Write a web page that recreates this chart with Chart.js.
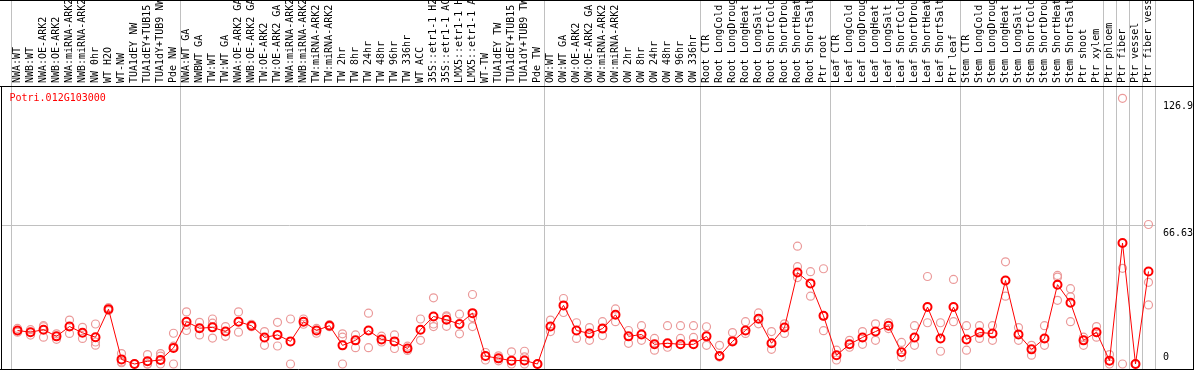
<!DOCTYPE html>
<html>
<head>
<meta charset="utf-8">
<script src="https://cdn.jsdelivr.net/npm/chart.js@4.4.1/dist/chart.umd.min.js"></script>
<style>
  html, body { margin: 0; padding: 0; background: #fff; }
  canvas { display: block; }
</style>
</head>
<body>
<canvas id="chart" width="1194" height="370"></canvas>
<script>
// sample names, as printed (cut to 14 chars)
var sampleLabels = [
  'NWA:WT', 'NWB:WT', 'NWA:OE-ARK2', 'NWB:OE-ARK2', 'NWA:miRNA-ARK2', 'NWB:miRNA-ARK2',
  'NW 0hr', 'WT H2O', 'WT-NW', 'TUA1dEY NW', 'TUA1dEY+TUB15', 'TUA1dY+TUB9 NW', 'Pde NW',
  'NWA:WT GA', 'NWBWT GA', 'TW:WT', 'TW:WT GA', 'NWA:OE-ARK2 GA', 'NWB:OE-ARK2 GA',
  'TW:OE-ARK2', 'TW:OE-ARK2 GA', 'NWA:miRNA-ARK2', 'NWB:miRNA-ARK2', 'TW:miRNA-ARK2',
  'TW:miRNA-ARK2', 'TW 2hr', 'TW 8hr', 'TW 24hr', 'TW 48hr', 'TW 96hr', 'TW 336hr', 'WT ACC',
  '35S::etr1-1 H2', '35S::etr1-1 AC', 'LMX5::etr1-1 H', 'LMX5::etr1-1 A', 'WT-TW', 'TUA1dEY TW',
  'TUA1dEY+TUB15', 'TUA1dY+TUB9 TW', 'Pde TW',
  'OW:WT', 'OW:WT GA', 'OW:OE-ARK2', 'OW:OE-ARK2 GA', 'OW:miRNA-ARK2', 'OW:miRNA-ARK2',
  'OW 2hr', 'OW 8hr', 'OW 24hr', 'OW 48hr', 'OW 96hr', 'OW 336hr',
  'Root CTR', 'Root LongCold', 'Root LongDroug', 'Root LongHeat', 'Root LongSalt',
  'Root ShortCold', 'Root ShortDrou', 'Root ShortHeat', 'Root ShortSalt', 'Ptr root',
  'Leaf CTR', 'Leaf LongCold', 'Leaf LongDroug', 'Leaf LongHeat', 'Leaf LongSalt',
  'Leaf ShortCold', 'Leaf ShortDrou', 'Leaf ShortHeat', 'Leaf ShortSalt', 'Ptr leaf',
  'Stem CTR', 'Stem LongCold', 'Stem LongDroug', 'Stem LongHeat', 'Stem LongSalt',
  'Stem ShortCold', 'Stem ShortDrou', 'Stem ShortHeat', 'Stem ShortSalt', 'Ptr shoot', 'Ptr xylem',
  'Ptr phloem', 'Ptr fiber', 'Ptr vessel', 'Ptr fiber vess'
];

// index of the first sample of each block (last entry = end)
var groupBreaks = [0, 13, 41, 53, 63, 73, 84, 85, 86, 87, 88];

var geneName = 'Potri.012G103000';

// mean expression (red line)
var meanValues = [
  16.0, 15.2, 16.4, 13.2, 17.9, 14.9, 12.8, 26.2, 2.2, 0, 1.3, 1.9, 7.7,
  20.2, 17.1, 17.5, 15.5, 20.2, 18.3, 12.7, 13.9, 10.8, 20.2, 16.0, 18.3, 8.9, 11.3,
  16.0, 11.7, 10.8, 7.4, 16.4, 22.7, 21.1, 19.1, 24.3, 3.8, 2.7, 1.6, 1.7, 0,
  17.9, 28.0, 16.0, 14.6, 16.9, 23.5, 13.2, 14.1, 9.4, 9.9, 9.4, 9.4,
  13.2, 3.8, 10.8, 16.0, 21.6, 9.9, 17.4, 43.7, 38.5, 23.0,
  4.2, 9.4, 12.7, 15.5, 18.3, 5.6, 12.7, 27.2, 12.2, 27.2,
  11.7, 15.0, 14.6, 39.9, 14.1, 7.0, 12.2, 37.9, 29.3, 11.3, 15.2,
  1.6, 57.8, 0, 44.2
];

// single replicates (pale circles)
var rep1 = [
  17.0, 16.4, 18.3, 14.4, 21.0, 17.5, 19.1, 26.9, 5.0, 0, 4.5, 5.0, 14.7,
  24.9, 19.9, 21.5, 17.9, 24.9, 19.0, 15.5, 19.9, 21.5, 21.5, 17.0, 18.8, 14.4, 13.9,
  24.3, 13.3, 13.9, 8.5, 21.5, 31.6, 23.0, 23.8, 33.2, 5.5, 3.9, 5.8, 6.1, 0,
  21.0, 31.3, 19.7, 17.4, 20.2, 26.3, 16.0, 18.3, 12.2, 18.3, 12.2, 18.3,
  17.8, 8.9, 15.0, 20.2, 24.4, 15.5, 19.2, 56.3, 44.1, 45.5,
  6.6, 11.3, 15.5, 19.2, 19.7, 10.3, 18.3, 41.8, 19.7, 40.4,
  18.3, 18.3, 18.3, 48.8, 17.4, 8.9, 18.3, 42.3, 36.0, 12.8, 17.9,
  4.5, 126.9, 0, 66.63
];
var rep2 = [
  15.2, 13.8, 12.8, 11.8, 14.6, 12.2, 10.5, 25.5, 1.0, 0, 0, 3.8, 8.5,
  16.0, 13.9, 19.5, 13.2, 15.2, 17.8, 8.9, 8.6, 0, 19.0, 14.7, 17.8, 12.8, 7.8,
  7.8, 10.5, 7.4, 6.5, 11.3, 19.1, 18.0, 14.4, 22.2, 1.9, 1.5, 0, 3.4, 0,
  15.5, 24.6, 12.2, 11.3, 13.6, 20.2, 9.9, 11.3, 6.6, 8.0, 18.3, 12.7,
  8.9, 3.3, 11.3, 14.6, 19.2, 7.0, 14.6, 46.5, 32.4, 23.0,
  1.9, 8.0, 9.4, 11.3, 16.9, 3.3, 8.9, 19.7, 6.1, 20.2,
  6.6, 12.2, 11.3, 32.4, 11.3, 4.2, 8.9, 41.5, 32.1, 8.9, 12.8,
  0, 45.7, 0, 39.0
];
var rep3 = [
  null, null, 17.8, null, null, null, 9.0, null, 0.6, null, 0, 0, 0,
  18.5, null, 12.4, null, null, null, null, null, null, null, null, null, 0, null,
  null, null, null, null, null, 17.9, 22.5, null, 17.9, null, 2.5, null, 0, null,
  null, null, null, null, null, null, null, null, null, null, null, null,
  null, null, null, null, null, null, null, 41.3, null, 15.9,
  null, null, null, null, null, null, null, null, null, null,
  null, null, null, null, null, null, null, 30.4, 20.2, null, 15.0,
  null, 0, null, 28.2
];

// right-hand axis marks
var yTickValues = [0, 66.63, 126.9];
var yTickLabels = ['0', '66.63', '126.9'];

var MONO = '"DejaVu Sans Mono", "Liberation Mono", monospace';

// frame, block separators, gene name and right labels
var framePlugin = {
  id: 'frame',
  beforeDatasetsDraw: function(chart) {
    var c = chart.ctx;
    var xs = chart.scales.x;
    var ys = chart.scales.y;
    var half = (xs.getPixelForValue(1) - xs.getPixelForValue(0)) / 2;
    c.save();
    c.strokeStyle = '#c0c0c0';
    c.lineWidth = 1;
    groupBreaks.forEach(function(i) {
      var x = i < sampleLabels.length ? xs.getPixelForValue(i) - half
                                       : xs.getPixelForValue(i - 1) + half;
      x = Math.round(x) + 0.5;
      c.beginPath();
      c.moveTo(x, 0);
      c.lineTo(x, chart.height);
      c.stroke();
    });
    // reference line at the middle mark
    var gy = Math.round(ys.getPixelForValue(yTickValues[1])) + 0.5;
    c.beginPath();
    c.moveTo(1, gy);
    c.lineTo(chart.chartArea.right, gy);
    c.stroke();
    c.restore();
  },
  afterDraw: function(chart) {
    var c = chart.ctx;
    var ys = chart.scales.y;
    var area = chart.chartArea;
    var w = chart.width, h = chart.height;
    c.save();
    c.strokeStyle = '#000';
    c.lineWidth = 1;
    c.beginPath();
    c.moveTo(0, 0.5); c.lineTo(w, 0.5);
    c.moveTo(0, area.top + 0.5); c.lineTo(w, area.top + 0.5);
    c.moveTo(0, h - 0.5); c.lineTo(w, h - 0.5);
    c.moveTo(1.5, area.top); c.lineTo(1.5, h);
    c.moveTo(w - 0.5, 0); c.lineTo(w - 0.5, h);
    c.stroke();

    c.font = '10px ' + MONO;
    c.fillStyle = '#ff0000';
    c.textAlign = 'left';
    c.textBaseline = 'alphabetic';
    c.fillText(geneName, 9.5, area.top + 14.5);

    c.fillStyle = '#000';
    yTickValues.forEach(function(v, k) {
      var py = ys.getPixelForValue(v);
      var base = v > 0 ? py + 11 : py - 4;
      c.fillText(yTickLabels[k], area.right + 8, base);
    });
    c.restore();
  }
};

var ctx = document.getElementById('chart').getContext('2d');

var chart = new Chart(ctx, {
  type: 'line',
  data: {
    labels: sampleLabels,
    datasets: [
      {
        data: meanValues,
        borderColor: '#ff0000',
        borderWidth: 1,
        pointStyle: 'circle',
        pointRadius: 4,
        pointBorderWidth: 2,
        pointBorderColor: '#ff0000',
        pointBackgroundColor: 'rgba(0,0,0,0)',
        tension: 0,
        clip: false
      },
      { data: rep1, showLine: false, pointRadius: 4, pointBorderWidth: 1.2,
        pointBorderColor: '#eb9a9a', pointBackgroundColor: 'rgba(0,0,0,0)', clip: false },
      { data: rep2, showLine: false, pointRadius: 4, pointBorderWidth: 1.2,
        pointBorderColor: '#eb9a9a', pointBackgroundColor: 'rgba(0,0,0,0)', clip: false },
      { data: rep3, showLine: false, pointRadius: 4, pointBorderWidth: 1.2,
        pointBorderColor: '#eb9a9a', pointBackgroundColor: 'rgba(0,0,0,0)', clip: false }
    ]
  },
  options: {
    responsive: false,
    animation: false,
    devicePixelRatio: 1,
    layout: { padding: { left: 11, right: 0, top: 0, bottom: 1 } },
    plugins: {
      legend: { display: false },
      tooltip: { enabled: false }
    },
    scales: {
      x: {
        position: 'top',
        offset: true,
        grid: { display: false, drawTicks: false },
        border: { display: false },
        ticks: {
          autoSkip: false,
          minRotation: 90,
          maxRotation: 90,
          padding: 3,
          labelOffset: 12,
          color: '#000',
          font: { family: MONO, size: 10 }
        },
        afterFit: function(scale) { scale.height = 86; }
      },
      y: {
        position: 'right',
        min: 0,
        max: 132.8,
        grid: { display: false },
        border: { display: false },
        ticks: { display: false },
        afterFit: function(scale) { scale.width = 39; }
      }
    }
  },
  plugins: [framePlugin]
});
</script>
</body>
</html>
